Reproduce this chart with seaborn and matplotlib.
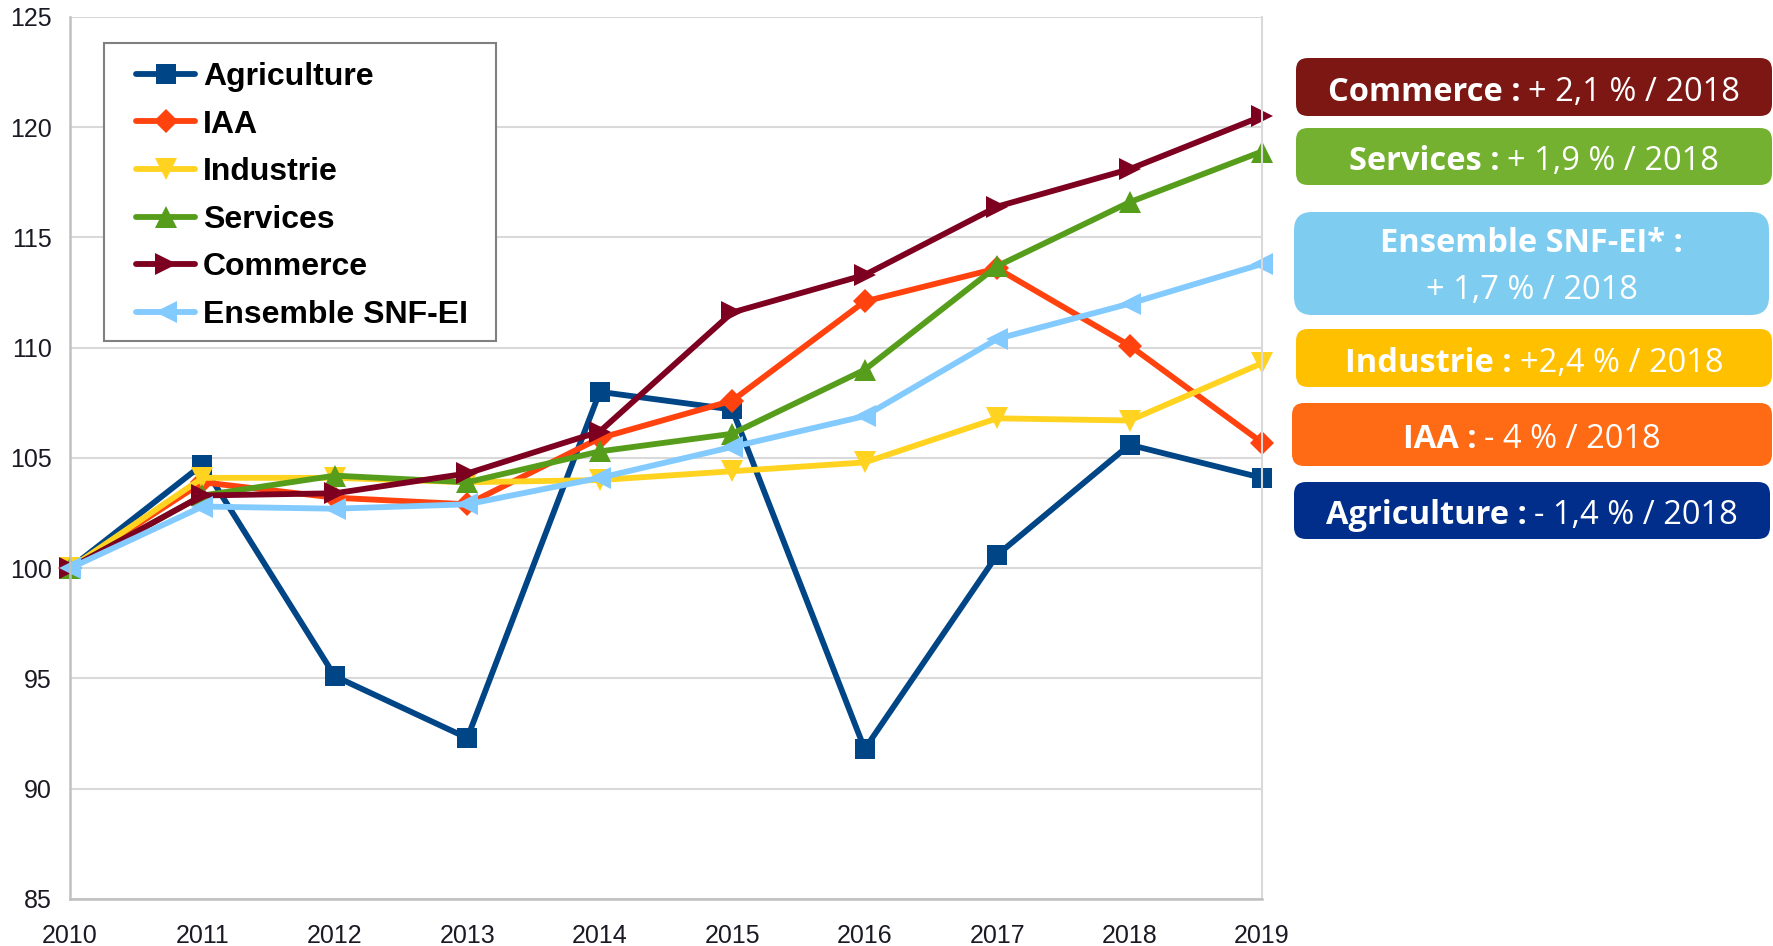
import matplotlib
matplotlib.use('Agg')
import matplotlib.pyplot as plt
from matplotlib.patches import FancyBboxPatch, Rectangle
from matplotlib.transforms import IdentityTransform
import pandas as pd
import seaborn as sns

years = [2010, 2011, 2012, 2013, 2014, 2015, 2016, 2017, 2018, 2019]
agriculture = [100, 104.7, 95.1, 92.3, 108.0, 107.2, 91.8, 100.6, 105.6, 104.1]
iaa = [100, 103.9, 103.2, 102.9, 105.9, 107.6, 112.1, 113.6, 110.1, 105.7]
industrie = [100, 104.1, 104.1, 103.9, 104.0, 104.4, 104.8, 106.8, 106.7, 109.3]
services = [100, 103.3, 104.2, 103.9, 105.3, 106.1, 109.0, 113.7, 116.6, 118.9]
commerce = [100, 103.3, 103.4, 104.3, 106.2, 111.6, 113.3, 116.4, 118.1, 120.5]
ensemble = [100, 102.8, 102.7, 102.9, 104.1, 105.5, 106.9, 110.4, 112.0, 113.8]

series_names = ['Agriculture', 'IAA', 'Industrie', 'Services', 'Commerce', 'Ensemble SNF-EI']
series_values = [agriculture, iaa, industrie, services, commerce, ensemble]
line_colors = ['#004586', '#ff420e', '#ffd320', '#579d1c', '#7e0021', '#83caff']
markers = ['s', 'D', 'v', '^', '>', '<']
marker_sizes = [15, 12.5, 16, 16, 16, 16]

# callout boxes on the right
box_bold = ['Commerce :', 'Services :', 'Ensemble SNF-EI* :', 'Industrie :', 'IAA :', 'Agriculture :']
box_rest = ['+ 2,1 % / 2018', '+ 1,9 % / 2018', '+ 1,7 % / 2018', '+2,4 % / 2018', '- 4 % / 2018', '- 1,4 % / 2018']
box_colors = ['#7c1714', '#75b130', '#7ecdf0', '#ffc000', '#ff6b14', '#002e8a']

W, H = 1773, 946
sns.set_style('white')
plt.rcParams['font.family'] = ['Liberation Sans', 'DejaVu Sans']

fig = plt.figure(figsize=(W / 100, H / 100), dpi=100)
ax = fig.add_axes([70 / W, 1 - 899 / H, (1262 - 70) / W, (899 - 17) / H])

df = pd.DataFrame({'year': years})
for name, vals, col, mk, ms in zip(series_names, series_values, line_colors, markers, marker_sizes):
    df[name] = vals
    sns.lineplot(data=df, x='year', y=name, color=col, marker=mk, markersize=ms,
                 markeredgewidth=0, linewidth=4.2, label=name, ax=ax, clip_on=False)

ax.set_xlim(2010, 2019)
ax.set_ylim(85, 125)
ax.set_xticks(years)
ax.set_yticks(range(85, 126, 5))
ax.set_xlabel('')
ax.set_ylabel('')
ax.grid(axis='y', color='#d9d9d9', linewidth=1.5)
ax.set_axisbelow(True)
for side in ['left', 'bottom']:
    ax.spines[side].set_color('#c0c0c0')
    ax.spines[side].set_linewidth(1.8)
ax.spines['right'].set_color('#d9d9d9')
ax.spines['right'].set_linewidth(1.5)
ax.spines['top'].set_visible(False)
ax.tick_params(axis='both', length=8, width=1.5, color='#c0c0c0', labelsize=18, labelcolor='#1a1a24')
ax.tick_params(axis='y', pad=5)
ax.tick_params(axis='x', pad=10)

# legend without its own frame, the frame is drawn below as a plain rectangle
leg = ax.legend(loc='upper left', bbox_to_anchor=(136 / W, 1 - 62 / H), bbox_transform=fig.transFigure,
                borderaxespad=0, frameon=False, prop={'weight': 'bold', 'size': 23},
                handlelength=1.85, handletextpad=0.25, labelspacing=0.55, borderpad=0, labelcolor='black')
leg_frame = Rectangle((104, H - 341), 496 - 104, 341 - 43, facecolor='white', edgecolor='#808080',
                      linewidth=1.5, transform=IdentityTransform(), zorder=4)
ax.add_artist(leg_frame)
leg.set_zorder(5)

# boxes: left, top, right, bottom in image pixels
box_rects = [(1296, 58, 1772, 116), (1296, 128, 1772, 185), (1294, 212, 1769, 315),
             (1296, 329, 1772, 387), (1292, 403, 1772, 466), (1294, 482, 1770, 539)]

fig.canvas.draw()
renderer = fig.canvas.get_renderer()
text_kw = dict(color='white', fontsize=23.5, family=['Open Sans', 'DejaVu Sans'], transform=IdentityTransform())
for (x0, y0, x1, y1), bold, rest, col in zip(box_rects, box_bold, box_rest, box_colors):
    rad = 18 if (y1 - y0) > 80 else 12
    patch = FancyBboxPatch((x0, H - y1), x1 - x0, y1 - y0,
                           boxstyle=f'round,pad=0,rounding_size={rad}',
                           facecolor=col, edgecolor='none', transform=IdentityTransform())
    fig.patches.append(patch)
    cx = (x0 + x1) / 2
    cy = H - (y0 + y1) / 2
    if (y1 - y0) > 80:
        fig.text(cx, cy + 20, bold, ha='center', va='center', weight='bold', **text_kw)
        fig.text(cx, cy - 27, rest, ha='center', va='center', **text_kw)
    else:
        t1 = fig.text(0, cy - 5, bold, ha='left', va='center', weight='bold', **text_kw)
        t2 = fig.text(0, cy - 5, rest, ha='left', va='center', **text_kw)
        w1 = t1.get_window_extent(renderer).width
        w2 = t2.get_window_extent(renderer).width
        gap = 8
        start = cx - (w1 + gap + w2) / 2
        t1.set_x(start)
        t2.set_x(start + w1 + gap)

fig.savefig('out.png', dpi=100)
